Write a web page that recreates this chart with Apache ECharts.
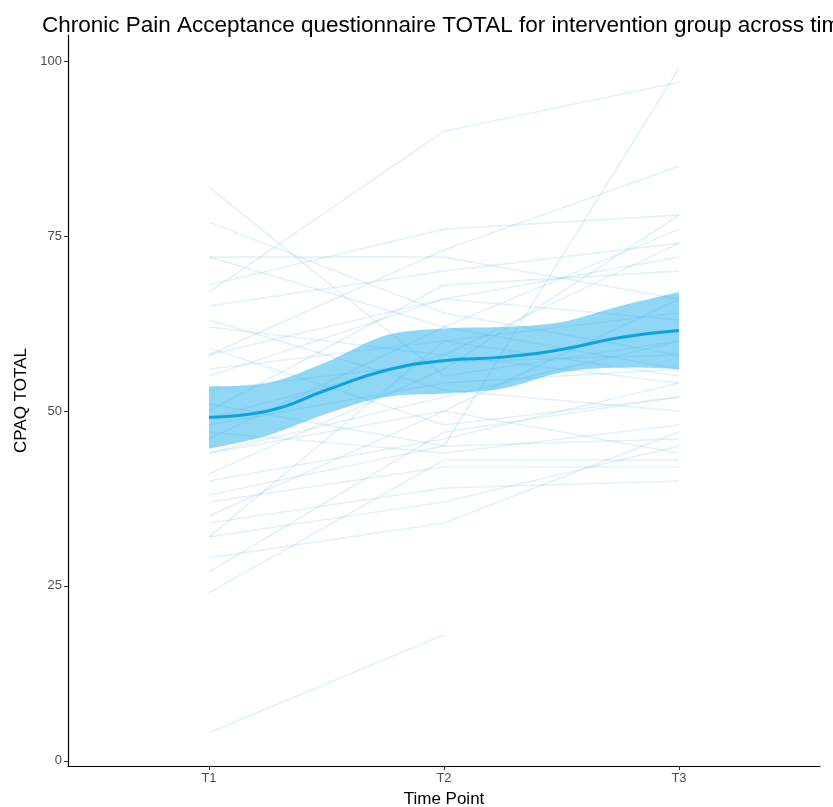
<!DOCTYPE html>
<html>
<head>
<meta charset="utf-8">
<title>CPAQ TOTAL</title>
<script src="https://cdn.jsdelivr.net/npm/echarts@6/dist/echarts.min.js"></script>
<style>
  html, body { margin: 0; padding: 0; background: #fff; }
  #chart { width: 833px; height: 807px; }
</style>
</head>
<body>
<div id="chart"></div>
<script>
// Time points and tick labels
const timeLabels = ['T1', 'T2', 'T3'];
const timePositions = [1, 2, 3];
const yTicks = [0, 25, 50, 75, 100];

// Individual CPAQ totals per participant at T1, T2, T3 (null = missing)
const scoresT1 = [82, 67, 77, 72, 72, 68, 65, 62, 59, 58, 58, 56, 53, 51, 50, 48, 47, 46, 44, 44, 41, 40, 38, 37, 35, 34, 32, 32, 29, 27, 24, 4, 55, 63, 49];
const scoresT2 = [55, 90, 64, 72, 62, 76, 70, 58, 48, 73, 66, 60, 57, 45, 68, 54, 44, 62, 52, 50, 56, 46, 45, 42, 50, 39, 60, 37, 34, 47, 43, 18, 66, 53, 58];
const scoresT3 = [60, 97, 58, 66, 56, 78, 74, 54, 52, 85, 72, 64, 58, 46, 70, 56, 48, 76, 60, 44, 78, 54, 99, 42, 66, 40, 55, 45, 47, 52, 43, null, 63, 50, 74];

// Smoothed group trend with its confidence band
const smoothX = [1, 1.25, 1.5, 1.75, 2, 2.25, 2.5, 2.75, 3];
const smoothFit = [49.1, 50.0, 53.0, 55.8, 57.2, 57.7, 58.8, 60.5, 61.5];
const smoothLower = [44.6, 46.5, 49.6, 52.0, 52.5, 53.2, 55.5, 56.2, 56.0];
const smoothUpper = [53.5, 54.0, 57.0, 60.8, 61.8, 62.0, 62.7, 65.0, 67.0];

const FONT = "'Liberation Sans', Arial, sans-serif";

const participantSeries = scoresT1.map((v, i) => {
  const vals = [v, scoresT2[i], scoresT3[i]];
  const pts = [];
  vals.forEach((y, k) => { if (y !== null) pts.push([timePositions[k], y]); });
  return {
    type: 'line',
    data: pts,
    symbol: 'none',
    silent: true,
    z: 1,
    lineStyle: { color: 'rgba(120, 195, 230, 0.22)', width: 1.6 }
  };
});

// Catmull-Rom spline through pixel points, as SVG path commands (no initial move)
function splineSegments(pts) {
  let d = '';
  for (let i = 0; i < pts.length - 1; i++) {
    const p0 = pts[Math.max(i - 1, 0)];
    const p1 = pts[i];
    const p2 = pts[i + 1];
    const p3 = pts[Math.min(i + 2, pts.length - 1)];
    const c1x = p1[0] + (p2[0] - p0[0]) / 6, c1y = p1[1] + (p2[1] - p0[1]) / 6;
    const c2x = p2[0] - (p3[0] - p1[0]) / 6, c2y = p2[1] - (p3[1] - p1[1]) / 6;
    d += ` C ${c1x} ${c1y} ${c2x} ${c2y} ${p2[0]} ${p2[1]}`;
  }
  return d;
}

const bandSeries = {
  type: 'custom',
  silent: true,
  z: 2,
  data: [0],
  renderItem: function (params, api) {
    const up = smoothX.map((x, i) => api.coord([x, smoothUpper[i]]));
    const lo = smoothX.map((x, i) => api.coord([x, smoothLower[i]])).reverse();
    let d = `M ${up[0][0]} ${up[0][1]}` + splineSegments(up);
    d += ` L ${lo[0][0]} ${lo[0][1]}` + splineSegments(lo) + ' Z';
    return {
      type: 'path',
      shape: { pathData: d },
      style: { fill: 'rgba(45, 178, 236, 0.53)', stroke: null }
    };
  }
};

const fitSeries = {
  type: 'line',
  data: smoothX.map((x, i) => [x, smoothFit[i]]),
  symbol: 'none',
  smooth: true,
  silent: true,
  z: 3,
  lineStyle: { color: '#0aa3df', width: 3 }
};

const chart = echarts.init(document.getElementById('chart'), null, { renderer: 'canvas' });
chart.setOption({
  animation: false,
  backgroundColor: '#ffffff',
  title: {
    text: 'Chronic Pain Acceptance questionnaire TOTAL for intervention group across time',
    left: 37,
    top: 9,
    textStyle: { fontFamily: FONT, fontSize: 22.5, fontWeight: 'normal', color: '#000' }
  },
  grid: { left: 68, right: 13, top: 35, bottom: 41, containLabel: false, outerBoundsMode: 'none' },
  xAxis: {
    type: 'value',
    min: 0.4,
    max: 3.6,
    name: 'Time Point',
    nameLocation: 'middle',
    nameGap: 25,
    nameTextStyle: { fontFamily: FONT, fontSize: 17, color: '#000' },
    axisLine: { onZero: false, lineStyle: { color: '#000', width: 1.2 } },
    axisTick: { show: true, customValues: timePositions, length: 4, lineStyle: { color: '#333' } },
    axisLabel: {
      customValues: timePositions,
      formatter: v => timeLabels[timePositions.indexOf(v)] || '',
      fontFamily: FONT, fontSize: 13, color: '#4d4d4d', margin: 6
    },
    splitLine: { show: false }
  },
  yAxis: {
    type: 'value',
    min: -0.75,
    max: 103.75,
    name: 'CPAQ TOTAL',
    nameLocation: 'middle',
    nameGap: 35,
    nameRotate: 90,
    nameTextStyle: { fontFamily: FONT, fontSize: 17, color: '#000' },
    axisLine: { show: true, onZero: false, lineStyle: { color: '#000', width: 1.2 } },
    axisTick: { show: true, customValues: yTicks, length: 4, lineStyle: { color: '#333' } },
    axisLabel: {
      customValues: yTicks,
      fontFamily: FONT, fontSize: 13, color: '#4d4d4d', margin: 6
    },
    splitLine: { show: false }
  },
  series: participantSeries.concat([bandSeries, fitSeries])
});
</script>
</body>
</html>
